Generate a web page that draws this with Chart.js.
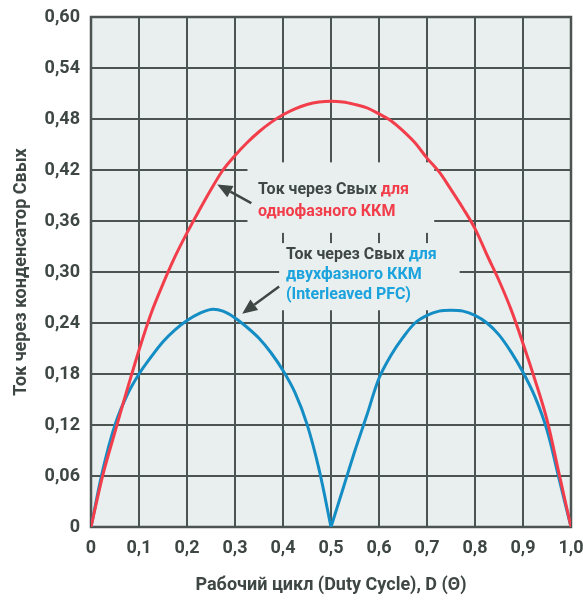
<!DOCTYPE html>
<html lang="ru">
<head>
<meta charset="UTF-8">
<title>Ток через конденсатор Свых</title>
<script src="https://cdn.jsdelivr.net/npm/chart.js"></script>
<style>
  body { margin: 0; background: #fff; }
  #wrap { width: 583px; height: 601px; position: relative; }
</style>
</head>
<body>
<div id="wrap"><canvas id="capChart"></canvas></div>
<script>
// duty cycle D and capacitor current
const dutyCycle = [0, 0.025, 0.05, 0.075, 0.1, 0.125, 0.15, 0.175, 0.2, 0.225, 0.25, 0.275, 0.3, 0.325, 0.35, 0.375, 0.4, 0.425, 0.45, 0.475, 0.5,
                   0.525, 0.55, 0.575, 0.6, 0.625, 0.65, 0.675, 0.7, 0.725, 0.75, 0.775, 0.8, 0.825, 0.85, 0.875, 0.9, 0.925, 0.95, 0.975, 1.0];
const singlePhase = [0, 0.062, 0.112, 0.161, 0.208, 0.251, 0.286, 0.318, 0.346, 0.372, 0.397, 0.42, 0.437, 0.452, 0.465, 0.476, 0.485, 0.492, 0.497, 0.5, 0.501,
                     0.5, 0.497, 0.493, 0.486, 0.478, 0.466, 0.452, 0.434, 0.418, 0.397, 0.375, 0.351, 0.32, 0.29, 0.256, 0.216, 0.173, 0.126, 0.063, 0];
const interleaved = [0, 0.068, 0.12, 0.155, 0.18, 0.2, 0.218, 0.232, 0.243, 0.251, 0.256, 0.254, 0.246, 0.235, 0.222, 0.205, 0.184, 0.158, 0.121, 0.068, 0,
                     0.045, 0.09, 0.132, 0.175, 0.202, 0.223, 0.24, 0.249, 0.254, 0.255, 0.254, 0.249, 0.24, 0.226, 0.206, 0.182, 0.153, 0.114, 0.057, 0];

const xTickValues = [0, 0.1, 0.2, 0.3, 0.4, 0.5, 0.6, 0.7, 0.8, 0.9, 1.0];
const xTickLabels = ['0', '0,1', '0,2', '0,3', '0,4', '0,5', '0,6', '0,7', '0,8', '0,9', '1,0'];
const yTickValues = [0, 0.06, 0.12, 0.18, 0.24, 0.30, 0.36, 0.42, 0.48, 0.54, 0.60];
const yTickLabels = ['0', '0,06', '0,12', '0,18', '0,24', '0,30', '0,36', '0,42', '0,48', '0,54', '0,60'];

const RED = '#f23d4b';
const BLUE = '#148dc4';
const BLUE_TEXT = '#1ba3dd';
const DARK = '#3e4744';
const GRID = '#4b5451';
const PLOT_BG = '#e9eeee';
const FONT = "Roboto, 'Liberation Sans', sans-serif";

const pts = (ys) => dutyCycle.map((d, i) => ({ x: d, y: ys[i] }));
const cusp = dutyCycle.indexOf(0.5);
const bluePts = pts(interleaved);

// annotation boxes hide the grid behind the captions
const notes = [
  {
    box: [0.326, 0.715, 0.346, 0.429],
    at: [0.348, 0.396], lineH: 22,
    lines: [[['Ток через Свых ', DARK], ['для', RED]], [['однофазного ККМ', RED]]],
    arrow: [0.334, 0.381, 0.263, 0.403]
  },
  {
    box: [0.392, 0.768, 0.255, 0.334],
    at: [0.406, 0.320], lineH: 20,
    lines: [[['Ток через Свых ', DARK], ['для', BLUE_TEXT]], [['двухфазного ККМ', BLUE_TEXT]], [['(Interleaved PFC)', BLUE_TEXT]]],
    arrow: [0.392, 0.283, 0.315, 0.251]
  }
];

const overlay = {
  id: 'overlay',
  beforeDraw(chart) {
    const { ctx, chartArea: a } = chart;
    ctx.save();
    ctx.fillStyle = PLOT_BG;
    ctx.fillRect(a.left, a.top, a.right - a.left, a.bottom - a.top);
    ctx.restore();
  },
  beforeDatasetsDraw(chart) {
    const { ctx, chartArea: a, scales: { x, y } } = chart;
    ctx.save();
    ctx.fillStyle = PLOT_BG;
    notes.forEach(n => {
      const x0 = x.getPixelForValue(n.box[0]), x1 = x.getPixelForValue(n.box[1]);
      const y0 = y.getPixelForValue(n.box[3]), y1 = y.getPixelForValue(n.box[2]);
      ctx.fillRect(x0, y0, x1 - x0, y1 - y0);
    });
    ctx.strokeStyle = GRID;
    ctx.lineWidth = 2.5;
    ctx.strokeRect(a.left, a.top, a.right - a.left, a.bottom - a.top);
    ctx.restore();
  },
  afterDatasetsDraw(chart) {
    const { ctx, scales: { x, y } } = chart;
    ctx.save();
    ctx.font = 'bold 16px ' + FONT;
    ctx.textBaseline = 'middle';
    ctx.textAlign = 'left';
    notes.forEach(n => {
      let ty = y.getPixelForValue(n.at[1]);
      n.lines.forEach(line => {
        let tx = x.getPixelForValue(n.at[0]);
        line.forEach(([txt, col]) => {
          ctx.fillStyle = col;
          ctx.fillText(txt, tx, ty);
          tx += ctx.measureText(txt).width;
        });
        ty += n.lineH;
      });
      // arrow
      const fx = x.getPixelForValue(n.arrow[0]), fy = y.getPixelForValue(n.arrow[1]);
      const tx = x.getPixelForValue(n.arrow[2]), tyy = y.getPixelForValue(n.arrow[3]);
      const ang = Math.atan2(tyy - fy, tx - fx);
      const hl = 15, hw = 6.5;
      const bx = tx - hl * Math.cos(ang), by = tyy - hl * Math.sin(ang);
      ctx.strokeStyle = DARK;
      ctx.fillStyle = DARK;
      ctx.lineWidth = 2.5;
      ctx.beginPath();
      ctx.moveTo(fx, fy);
      ctx.lineTo(bx, by);
      ctx.stroke();
      ctx.beginPath();
      ctx.moveTo(tx, tyy);
      ctx.lineTo(bx + hw * Math.sin(ang), by - hw * Math.cos(ang));
      ctx.lineTo(bx - hw * Math.sin(ang), by + hw * Math.cos(ang));
      ctx.closePath();
      ctx.fill();
    });
    ctx.restore();
  }
};

const lineStyle = { borderWidth: 3, pointRadius: 0, fill: false, tension: 0.35 };

new Chart(document.getElementById('capChart').getContext('2d'), {
  type: 'line',
  data: {
    datasets: [
      { ...lineStyle, label: 'однофазный ККМ', data: pts(singlePhase), borderColor: RED },
      { ...lineStyle, label: 'двухфазный ККМ', data: bluePts.slice(0, cusp + 1), borderColor: BLUE },
      { ...lineStyle, label: 'двухфазный ККМ ', data: bluePts.slice(cusp), borderColor: BLUE }
    ]
  },
  options: {
    responsive: true,
    maintainAspectRatio: false,
    animation: false,
    layout: { padding: { top: 17, right: 12, left: 0, bottom: 0 } },
    plugins: { legend: { display: false }, tooltip: { enabled: false } },
    scales: {
      x: {
        type: 'linear', min: 0, max: 1,
        afterFit: s => { s.height = 74; s.paddingLeft = 0; s.paddingRight = 0; },
        afterBuildTicks: s => { s.ticks = xTickValues.map(v => ({ value: v })); },
        grid: { color: GRID, lineWidth: 2, drawTicks: false },
        border: { display: false },
        ticks: {
          padding: 11, color: DARK, maxRotation: 0, autoSkip: false,
          font: { family: FONT, size: 18, weight: 'bold' },
          callback: (v, i) => xTickLabels[i]
        },
        title: {
          display: true, text: 'Рабочий цикл (Duty Cycle), D (Θ)', color: DARK,
          font: { family: FONT, size: 18, weight: 'bold' },
          padding: { top: 0, bottom: 5 }
        }
      },
      y: {
        type: 'linear', min: 0, max: 0.6,
        afterFit: s => { s.width = 91; s.paddingTop = 0; s.paddingBottom = 0; },
        afterBuildTicks: s => { s.ticks = yTickValues.map(v => ({ value: v })); },
        grid: { color: GRID, lineWidth: 2, drawTicks: false },
        border: { display: false },
        ticks: {
          padding: 11, color: DARK, autoSkip: false,
          font: { family: FONT, size: 18, weight: 'bold' },
          callback: (v, i) => yTickLabels[i]
        },
        title: {
          display: true, text: 'Ток через конденсатор Свых', color: DARK,
          font: { family: FONT, size: 18, weight: 'bold' },
          padding: { top: 11, bottom: 0 }
        }
      }
    }
  },
  plugins: [overlay]
});
</script>
</body>
</html>
